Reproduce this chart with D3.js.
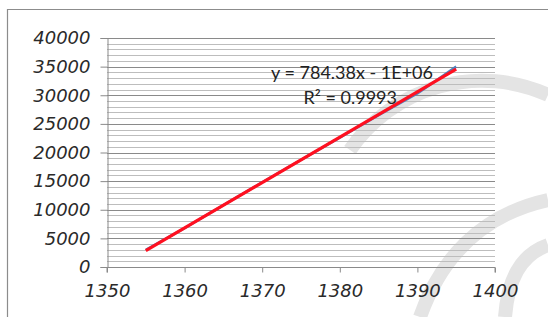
<!DOCTYPE html>
<html>
<head>
<meta charset="utf-8">
<script src="https://cdn.jsdelivr.net/npm/d3@7"></script>
<style>
  body { margin: 0; background: #fff; }
  svg { display: block; }
</style>
</head>
<body>
<div id="chart"></div>
<script>
// data
const years = [1355, 1360, 1365, 1370, 1375, 1380, 1385, 1390, 1395];
const values = [3000, 6800, 10800, 14800, 18700, 22600, 26500, 30300, 35000];
const xTicks = [1350, 1360, 1370, 1380, 1390, 1400];
const yTicks = [0, 5000, 10000, 15000, 20000, 25000, 30000, 35000, 40000];
const equationLines = ['y = 784.38x - 1E+06', 'R² = 0.9993'];

const W = 548, H = 317;
const margin = {top: 38, right: 53, bottom: 50, left: 107};
const width = W - margin.left - margin.right;
const height = H - margin.top - margin.bottom;

const svg = d3.select('#chart').append('svg')
  .attr('width', W)
  .attr('height', H);

// faint background watermark (decorative)
const wm = svg.append('g')
  .attr('fill', 'none')
  .attr('stroke', '#e4e4e4')
  .attr('stroke-width', 14);
wm.append('path').attr('d', 'M350,150 A160,160 0 0 1 548,95');
wm.append('path').attr('d', 'M420,317 C440,260 480,215 548,200');
wm.append('path').attr('d', 'M505,317 C508,280 520,255 548,245');

// outer frame
svg.append('path')
  .attr('d', `M7.5,${H} V9.5 H${W}`)
  .attr('fill', 'none')
  .attr('stroke', '#8c8c8c')
  .attr('stroke-width', 1.2);

const g = svg.append('g')
  .attr('transform', `translate(${margin.left},${margin.top})`);

const x = d3.scaleLinear().domain([1350, 1400]).range([0, width]);
const y = d3.scaleLinear().domain([0, 40000]).range([height, 0]);

// minor gridlines every 1000
g.append('g')
  .selectAll('line')
  .data(d3.range(1000, 40001, 1000).filter(v => v % 5000 !== 0))
  .enter().append('line')
    .attr('x1', 0).attr('x2', width)
    .attr('y1', d => Math.round(y(d)) + 0.5)
    .attr('y2', d => Math.round(y(d)) + 0.5)
    .attr('stroke', '#bdbdbd')
    .attr('stroke-width', 1);

// major gridlines
g.append('g')
  .selectAll('line')
  .data(yTicks.filter(v => v > 0))
  .enter().append('line')
    .attr('x1', 0).attr('x2', width)
    .attr('y1', d => Math.round(y(d)) + 0.5)
    .attr('y2', d => Math.round(y(d)) + 0.5)
    .attr('stroke', '#8a8a8a')
    .attr('stroke-width', 1);

// Y axis
const yAxis = g.append('g')
  .attr('transform', 'translate(0.5,0)')
  .call(d3.axisLeft(y).tickValues(yTicks).tickSize(7).tickPadding(10).tickFormat(d3.format('d')));
yAxis.selectAll('text')
  .style('font-family', '"DejaVu Sans", sans-serif')
  .style('font-style', 'italic')
  .style('font-size', '18px')
  .attr('fill', '#2a2a2a');
yAxis.selectAll('line, path').attr('stroke', '#8a8a8a');

// X axis
const xAxis = g.append('g')
  .attr('transform', `translate(0,${height + 0.5})`)
  .call(d3.axisBottom(x).tickValues(xTicks).tickSize(5).tickPadding(12).tickFormat(d3.format('d')));
xAxis.selectAll('text')
  .style('font-family', '"DejaVu Sans", sans-serif')
  .style('font-style', 'italic')
  .style('font-size', '18px')
  .attr('fill', '#2a2a2a');
xAxis.selectAll('line, path').attr('stroke', '#8a8a8a');
xAxis.select('.domain').attr('d', `M0,5V0H${width}V5`);

// data series
const line = d3.line()
  .x((d, i) => x(years[i]))
  .y(d => y(d));

g.append('path')
  .datum(values)
  .attr('fill', 'none')
  .attr('stroke', '#4f81bd')
  .attr('stroke-width', 2.5)
  .attr('stroke-linejoin', 'round')
  .attr('d', line);

// linear trendline (least squares)
const mx = d3.mean(years), my = d3.mean(values);
const slope = d3.sum(years, (v, i) => (v - mx) * (values[i] - my)) / d3.sum(years, v => (v - mx) ** 2);
const intercept = my - slope * mx;
const trendX = d3.extent(years);

g.append('path')
  .datum(trendX)
  .attr('fill', 'none')
  .attr('stroke', '#ff1020')
  .attr('stroke-width', 3.2)
  .attr('d', d3.line().x(d => x(d)).y(d => y(slope * d + intercept)));

// equation label
const eq = svg.append('text')
  .attr('font-family', 'Lato, sans-serif')
  .attr('font-size', 18)
  .attr('fill', '#222')
  .attr('text-anchor', 'end');
eq.append('tspan').attr('x', 433).attr('y', 79).text(equationLines[0]);
eq.append('tspan').attr('x', 397).attr('y', 104).text(equationLines[1]);
</script>
</body>
</html>
